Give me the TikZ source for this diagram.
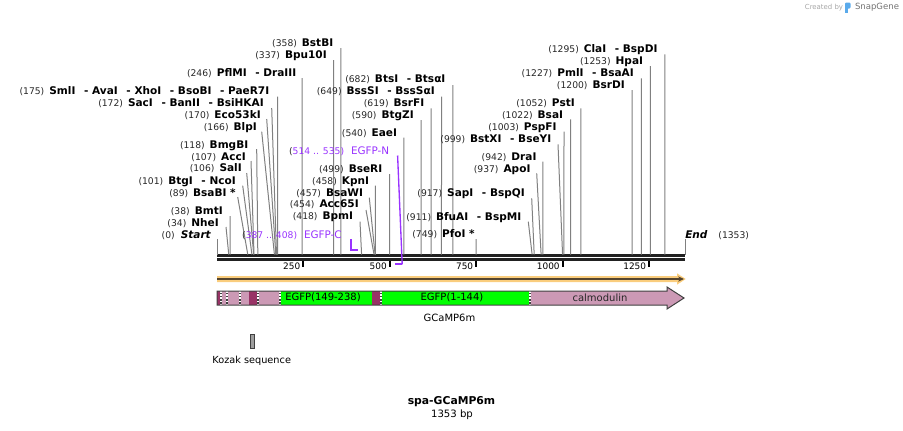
\documentclass[tikz,border=0pt]{standalone}
\usepackage{fontspec}
\setmainfont{DejaVu Sans}
\usetikzlibrary{arrows.meta}
\definecolor{cutGray}{RGB}{128,128,128}
\definecolor{featPink}{RGB}{204,153,181}
\definecolor{featDark}{RGB}{153,51,102}
\definecolor{featGreen}{RGB}{0,255,0}
\definecolor{primerPurple}{RGB}{153,51,255}
\definecolor{orfOrange}{RGB}{250,205,125}
\definecolor{orfBrown}{RGB}{85,68,45}
\definecolor{snapBlue}{RGB}{90,170,235}
\newcommand{\sitepos}[1]{{\fontsize{6.9}{8}\selectfont\color{black!85}(#1)}}
\newcommand{\enzname}[1]{{\fontsize{7.9}{9}\selectfont\bfseries #1}}
\newcommand{\orsep}{\hspace{6.5pt}}

\begin{document}
\begin{tikzpicture}[x=0.75pt, y=-0.75pt,
    site label/.style={anchor=base east, inner sep=0pt},
    cut line/.style={cutGray, line width=0.75pt},
    feat text/.style={font=\fontsize{7.5}{9}\selectfont, inner sep=0pt}]
  \useasboundingbox (0,0) rectangle (903,430);

  % backbone, 0 .. 1353 bp over x = 217 .. 685
  \draw[black!87, line width=2pt] (217,255.3) -- (685,255.3);
  \draw[black!87, line width=1.8pt] (217,259.5) -- (685,259.5);
  \foreach \t in {250,500,750,1000,1250}{
    \draw[black, line width=1.5pt] ({217+\t*0.3459},260.5) -- ({217+\t*0.3459},266.5);
    \node[anchor=east, inner sep=0pt, font=\fontsize{6.7}{8}\selectfont] (tick\t) at ({214+\t*0.3459},266) {\t};
  }

  % ends of the sequence
  \node[site label] (start) at (211,238.2) {\sitepos{0}\hspace{4.5pt}\enzname{\itshape Start}};
  \coordinate (start-foot) at (217,239);
  \coordinate (start-cut) at (217,254.5);
  \draw[cut line] (start-foot) -- (start-cut);
  \node[anchor=base west, inner sep=0pt] (end) at (685,238.2) {\enzname{\itshape End}\hspace{8.2pt}\sitepos{1353}};
  \coordinate (end-foot) at (685,239);
  \coordinate (end-cut) at (685,254.5);
  \draw[cut line] (end-foot) -- (end-cut);

  % enzyme sites
  \foreach \nm/\p/\lx/\ly/\sx/\sy/\enzt in {
      nhe/34/219/222.7/226/227/NheI,
      bmt/38/223/210.7/230.1/216/BmtI,
      bsabi/89/236/192.7/237.7/197/BsaBI *,
      btg/101/236/180.7/242.7/185.7/BtgI\orsep- NcoI,
      sal/106/242/168/246.7/173/SalI,
      acc/107/246/156.7/251/161/AccI,
      bmgb/118/248.5/144.3/256.7/149/BmgBI,
      blp/166/257/126.7/261.7/131.7/BlpI,
      eco/170/261/114.3/266.7/119/Eco53kI,
      sac/172/264/102.3/271.7/108/SacI\orsep- BanII\orsep- BsiHKAI,
      sml/175/269.5/91/277.5/96.7/SmlI\orsep- AvaI\orsep- XhoI\orsep- BsoBI\orsep- PaeR7I,
      pflm/246/296.5/72.7/302.1/78/PflMI\orsep- DraIII,
      bpu/337/327/54.7/333.6/60/Bpu10I,
      bstb/358/333.5/42.8/340.8/48/BstBI,
      bpm/418/353.3/216/360/221.7/BpmI,
      acc65/454/359/204/366/210/Acc65I,
      bsaw/457/363.3/192.7/369.3/197.7/BsaWI,
      kpn/458/369.3/180.7/375.4/185.7/KpnI,
      bser/499/382.5/168.3/389.6/174/BseRI,
      eae/540/397.3/132.3/403.8/137.7/EaeI,
      btgz/590/414/114.3/421.1/120/BtgZI,
      bsrf/619/424.5/102.7/431.1/108.3/BsrFI,
      bsss/649/435/90.7/441.5/96.7/BssSI\orsep- BssSαI,
      bts/682/445.7/78.3/452.9/85/BtsI\orsep- BtsαI,
      pfo/749/475/233.7/476.1/239/PfoI *,
      bfua/911/521.5/216.3/528.3/221.7/BfuAI\orsep- BspMI,
      sap/917/525/192.7/531.7/198.3/SapI\orsep- BspQI,
      apo/937/530.7/168.3/536.7/173.3/ApoI,
      dra/942/536.7/156.7/542.8/161.7/DraI,
      bstx/999/551.5/138.3/558/144.3/BstXI\orsep- BseYI,
      pspf/1003/556.7/126.7/564/131.7/PspFI,
      bsa/1022/563.3/114.3/570.5/119.3/BsaI,
      pst/1052/575/102.7/580.9/108.3/PstI,
      bsrd/1200/625/85/632.1/90/BsrDI,
      pml/1227/634/72.7/641.4/78.3/PmlI\orsep- BsaAI,
      hpa/1253/643.3/60.7/650.4/66/HpaI,
      cla/1295/657.7/49/664.9/54.3/ClaI\orsep- BspDI}{
    \node[site label] (\nm) at (\lx,{\ly+3.9}) {\sitepos{\p}\hspace{3.75pt}\enzname{\enzt}};
    \coordinate (\nm-foot) at (\sx,\sy);
    \coordinate (\nm-cut) at ({217+\p*0.3459},254.5);
    \draw[cut line] (\nm-foot) -- (\nm-cut);
  }

  % primer binding sites
  \node[site label, primerPurple] (egfpc) at (342,238.2) {\sitepos{\color{primerPurple}387 .. 408}\hspace{5.2pt}{\fontsize{7.8}{9}\selectfont EGFP-C}};
  \coordinate (egfpc-a) at (351,239);
  \coordinate (egfpc-b) at (351,250);
  \coordinate (egfpc-c) at (358.1,250);
  \draw[primerPurple, line width=1.5pt] (egfpc-a) -- (egfpc-b) -- (egfpc-c);
  \node[site label, primerPurple] (egfpn) at (389.5,154.6) {\sitepos{\color{primerPurple}514 .. 535}\hspace{5.2pt}{\fontsize{7.8}{9}\selectfont EGFP-N}};
  \coordinate (egfpn-foot) at (397.6,155.5);
  \coordinate (egfpn-end) at (402.2,264.3);
  \coordinate (egfpn-start) at (394.8,264.3);
  \draw[primerPurple, line width=1pt] (egfpn-foot) -- (egfpn-end);
  \draw[primerPurple, line width=1.5pt] (egfpn-end) -- (egfpn-start);

  % open reading frame
  \fill[orfOrange] (217,276) -- (677,276) -- (677,273.3) -- (685.7,279) -- (677,284.7) -- (677,282) -- (217,282) -- cycle;
  \draw[orfBrown, line width=1.4pt, -{Stealth[length=4.5pt,width=4pt]}] (217,279) -- (684,279);

  % GCaMP6m feature
  \fill[featDark] (217,291) rectangle (221,305);
  \fill[featPink] (221,291) rectangle (249,305);
  \fill[featDark] (249,291) rectangle (257.5,305);
  \fill[featPink] (257.5,291) rectangle (280,305);
  \fill[featGreen] (280,291) rectangle (372.3,305);
  \fill[featDark] (372.3,291) rectangle (380.5,305);
  \fill[featGreen] (380.5,291) rectangle (530,305);
  \fill[featPink] (530,291) -- (667,291) -- (667,287) -- (684,298) -- (667,309) -- (667,305) -- (530,305) -- cycle;
  \foreach \bx in {221,227,240.3,258.3,279.8,380.6,530}{
    \draw[black!75, line width=1.6pt] (\bx,291) -- (\bx,305);
    \draw[white, line width=1.6pt, dash pattern=on 1.2pt off 1.2pt] (\bx,291) -- (\bx,305);
  }
  \draw[black!75, line width=0.75pt] (217,291) -- (667,291) -- (667,287) -- (684,298) -- (667,309) -- (667,305) -- (217,305) -- cycle;
  \node[feat text] (egfpB) at (323,297.8) {EGFP(149-238)};
  \node[feat text] (egfpA) at (452,297.8) {EGFP(1-144)};
  \node[feat text, text=black!85] (calm) at (600,298) {calmodulin};
  \node[feat text] (gcamp) at (449.5,317.8) {GCaMP6m};

  % Kozak sequence
  \node[draw=black!75, fill=black!38, line width=0.5pt, inner sep=0pt, minimum width=3.2pt, minimum height=10.3pt] (kozak) at (252.2,341) {};
  \node[feat text, font=\fontsize{7.3}{9}\selectfont] (kozakLbl) at (251.7,361) {Kozak sequence};

  % title
  \node[inner sep=0pt, font=\fontsize{8.1}{10}\selectfont\bfseries] (title) at (451.5,402) {spa-GCaMP6m};
  \node[inner sep=0pt, font=\fontsize{7.6}{9}\selectfont] (length) at (452,414.3) {1353 bp};

  % credit
  \node[inner sep=0pt, text=black!35, font=\fontsize{5.2}{6}\selectfont] (credit) at (824,7.6) {Created by};
  \fill[snapBlue, rounded corners=0.8pt] (845,2.5) rectangle (850.5,8.5);
  \fill[snapBlue] (845,6) rectangle (847.6,13);
  \node[inner sep=0pt, text=black!55, font=\fontsize{6.4}{7}\selectfont] (brand) at (877,7.6) {SnapGene};
\end{tikzpicture}
\end{document}
